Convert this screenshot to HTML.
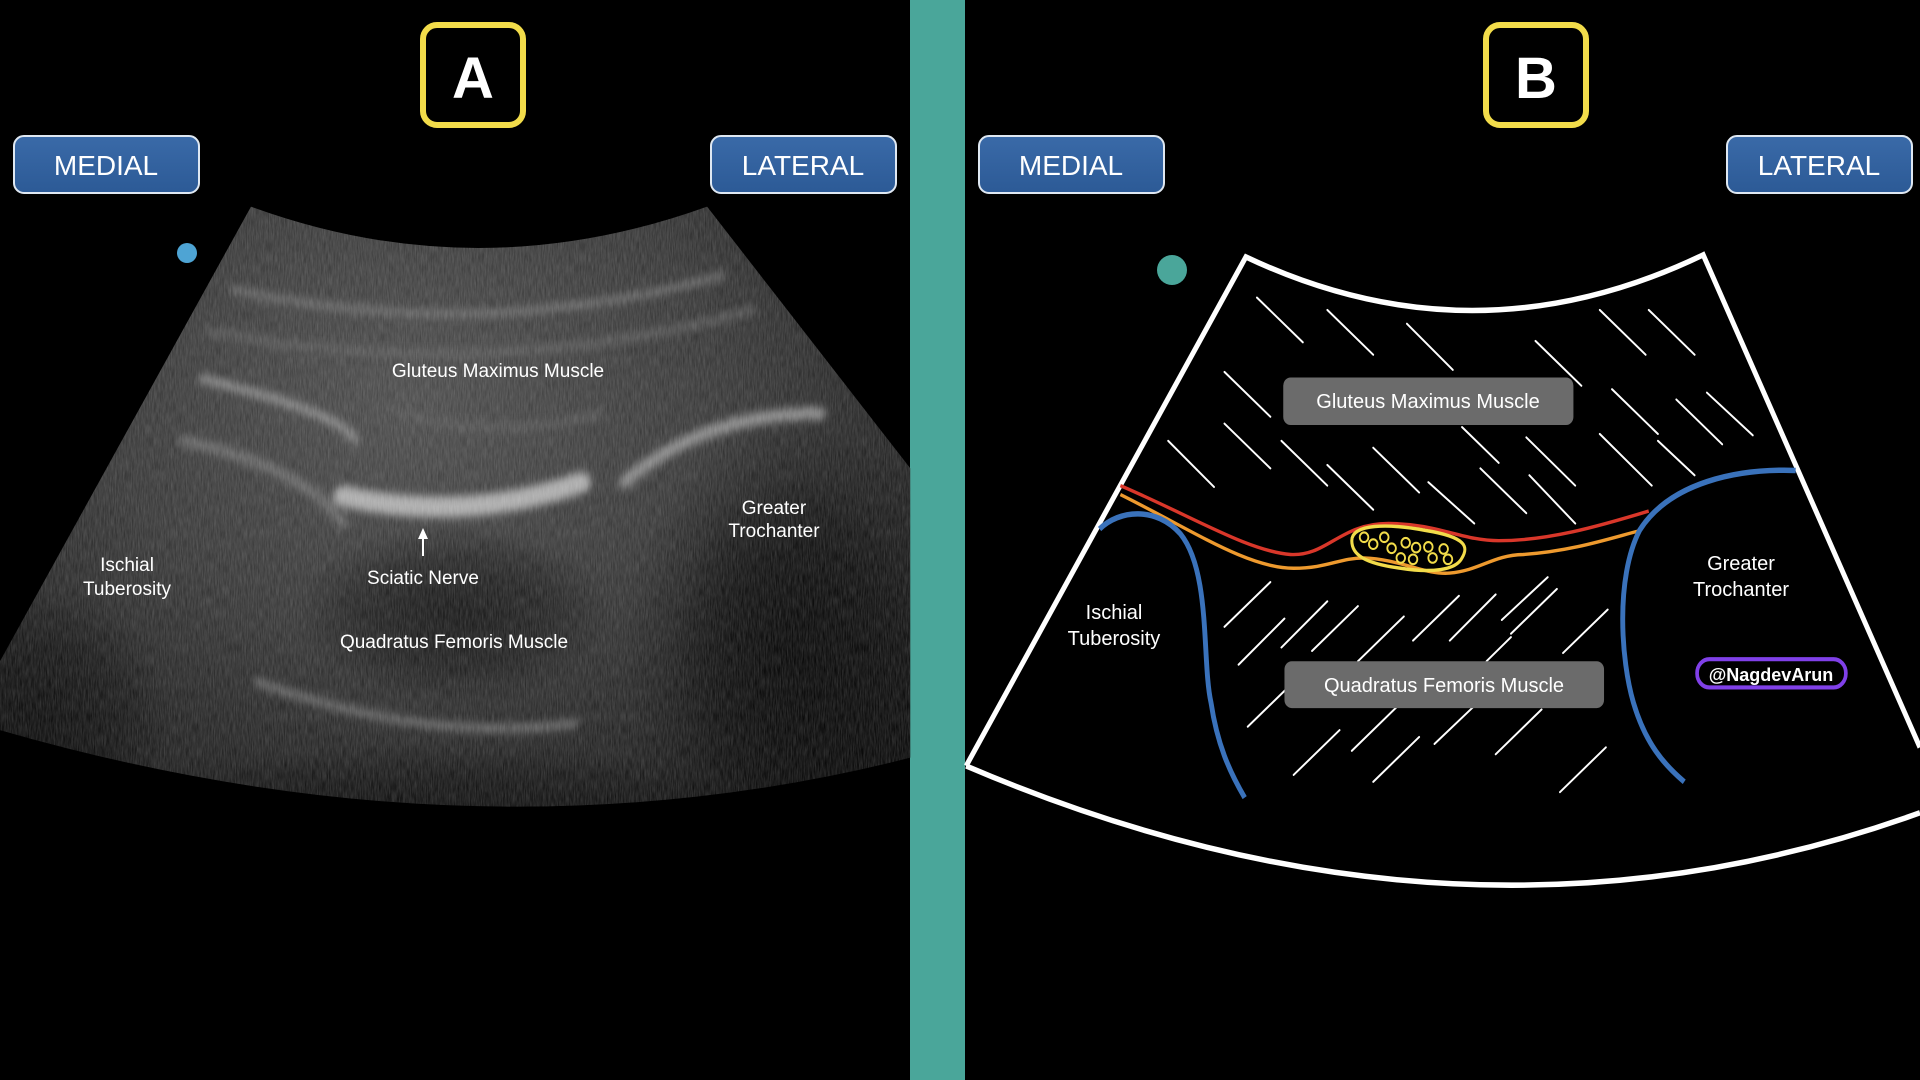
<!DOCTYPE html>
<html><head><meta charset="utf-8"><style>
html,body{margin:0;padding:0;background:#000;width:1920px;height:1080px;overflow:hidden}
svg{display:block}
</style></head><body>
<svg width="1920" height="1080" viewBox="0 0 1920 1080" xmlns="http://www.w3.org/2000/svg" font-family="Liberation Sans, sans-serif">
<defs>
<radialGradient id="us" cx="0.45" cy="0.3" r="0.75">
<stop offset="0" stop-color="#4a4a4a"/>
<stop offset="0.45" stop-color="#353535"/>
<stop offset="0.8" stop-color="#1c1c1c"/>
<stop offset="1" stop-color="#080808"/>
</radialGradient>
<radialGradient id="dk">
<stop offset="0" stop-color="#000" stop-opacity="0.6"/>
<stop offset="0.6" stop-color="#000" stop-opacity="0.35"/>
<stop offset="1" stop-color="#000" stop-opacity="0"/>
</radialGradient>
<linearGradient id="btn" x1="0" y1="0" x2="0" y2="1">
<stop offset="0" stop-color="#3a6aa8"/><stop offset="1" stop-color="#2c5a96"/>
</linearGradient>
<filter id="bl" x="-20%" y="-20%" width="140%" height="140%"><feGaussianBlur stdDeviation="6"/></filter>
<filter id="noise"><feTurbulence type="fractalNoise" baseFrequency="0.5 0.06" numOctaves="3" seed="3"/><feColorMatrix values="0 0 0 0 1  0 0 0 0 1  0 0 0 0 1  0 0 0 0.45 -0.05"/></filter>
<clipPath id="fan"><path d="M410,300 Q780,420 1155,300 L1487,680 L1487,1100 Q780,1260 0,1060 L0,960 Z"/></clipPath>
</defs>
<rect width="1920" height="1080" fill="#000"/>
<rect x="910" y="0" width="55" height="1080" fill="#4aa69a"/>

<!-- LEFT PANEL -->
<g transform="scale(0.6122,0.6888)">
<g clip-path="url(#fan)">
<rect x="0" y="280" width="1490" height="1000" fill="url(#us)"/>
<ellipse cx="740" cy="890" rx="260" ry="130" fill="url(#dk)"/>
<ellipse cx="1300" cy="950" rx="280" ry="350" fill="url(#dk)"/>
<ellipse cx="1300" cy="950" rx="200" ry="260" fill="url(#dk)"/>
<ellipse cx="60" cy="1050" rx="220" ry="200" fill="url(#dk)"/>
<ellipse cx="700" cy="1200" rx="600" ry="120" fill="url(#dk)"/>
<g filter="url(#bl)" fill="none" stroke-linecap="round">
<path d="M380,420 Q780,500 1180,400" stroke="#6a6a6a" stroke-width="10"/>
<path d="M340,480 Q780,560 1230,450" stroke="#5a5a5a" stroke-width="10"/>
<path d="M330,550 Q560,600 580,640" stroke="#888" stroke-width="12"/>
<path d="M300,640 Q500,680 560,760" stroke="#666" stroke-width="16"/>
<path d="M560,720 Q760,760 950,700" stroke="#aaa" stroke-width="30"/>
<path d="M1020,700 Q1150,600 1340,600" stroke="#888" stroke-width="18"/>
<path d="M420,990 Q700,1080 940,1050" stroke="#666" stroke-width="12"/>
<path d="M650,600 Q820,640 980,600" stroke="#555" stroke-width="10"/>
</g>
<rect x="0" y="280" width="1490" height="1000" filter="url(#noise)" opacity="0.5"/>
</g>
</g>
<circle cx="187" cy="253" r="10" fill="#4ea4d4"/>
<g fill="#fff" font-size="19" text-anchor="middle">
<text x="498" y="377">Gluteus Maximus Muscle</text>
<text x="774" y="514">Greater</text>
<text x="774" y="537">Trochanter</text>
<text x="127" y="571">Ischial</text>
<text x="127" y="595">Tuberosity</text>
<text x="423" y="584">Sciatic Nerve</text>
<text x="454" y="648">Quadratus Femoris Muscle</text>
</g>
<line x1="423" y1="556" x2="423" y2="536" stroke="#fff" stroke-width="2"/>
<path d="M418,539 L423,528 L428,539 Z" fill="#fff"/>

<rect x="423" y="25" width="100" height="100" rx="14" fill="#000" stroke="#f2dc4a" stroke-width="6"/>
<text x="473" y="98" fill="#fff" font-size="58" font-weight="bold" text-anchor="middle">A</text>
<g font-size="28" fill="#fff" text-anchor="middle">
<rect x="14" y="136" width="185" height="57" rx="10" fill="url(#btn)" stroke="#dfe8f2" stroke-width="2"/>
<text x="106" y="175">MEDIAL</text>
<rect x="711" y="136" width="185" height="57" rx="10" fill="url(#btn)" stroke="#dfe8f2" stroke-width="2"/>
<text x="803" y="175">LATERAL</text>
<rect x="979" y="136" width="185" height="57" rx="10" fill="url(#btn)" stroke="#dfe8f2" stroke-width="2"/>
<text x="1071" y="175">MEDIAL</text>
<rect x="1727" y="136" width="185" height="57" rx="10" fill="url(#btn)" stroke="#dfe8f2" stroke-width="2"/>
<text x="1819" y="175">LATERAL</text>
</g>
<rect x="1486" y="25" width="100" height="100" rx="14" fill="#000" stroke="#f2dc4a" stroke-width="6"/>
<text x="1536" y="98" fill="#fff" font-size="58" font-weight="bold" text-anchor="middle">B</text>

<!-- RIGHT PANEL -->
<circle cx="1172" cy="270" r="15" fill="#4aa69a"/>
<g transform="translate(960,0) scale(0.6122,0.6888)">
<g stroke="#fff" stroke-width="3" stroke-linecap="round">
<line x1="485" y1="432" x2="560" y2="497"/><line x1="600" y1="450" x2="675" y2="515"/>
<line x1="730" y1="470" x2="805" y2="537"/><line x1="940" y1="495" x2="1015" y2="560"/>
<line x1="1045" y1="450" x2="1120" y2="515"/><line x1="1125" y1="450" x2="1200" y2="515"/>
<line x1="432" y1="540" x2="507" y2="605"/><line x1="1065" y1="565" x2="1140" y2="630"/>
<line x1="1170" y1="580" x2="1245" y2="645"/><line x1="1220" y1="570" x2="1295" y2="632"/>
<line x1="340" y1="640" x2="415" y2="707"/><line x1="432" y1="615" x2="507" y2="680"/>
<line x1="525" y1="640" x2="600" y2="705"/><line x1="600" y1="675" x2="675" y2="740"/>
<line x1="675" y1="650" x2="750" y2="715"/><line x1="765" y1="700" x2="840" y2="760"/>
<line x1="820" y1="620" x2="880" y2="672"/><line x1="925" y1="635" x2="1005" y2="705"/>
<line x1="930" y1="690" x2="1005" y2="760"/><line x1="1045" y1="630" x2="1130" y2="705"/>
<line x1="850" y1="680" x2="925" y2="745"/><line x1="1140" y1="640" x2="1200" y2="690"/>
<line x1="432" y1="910" x2="507" y2="845"/><line x1="455" y1="965" x2="530" y2="898"/>
<line x1="525" y1="940" x2="600" y2="873"/><line x1="575" y1="945" x2="650" y2="880"/>
<line x1="650" y1="960" x2="725" y2="895"/><line x1="740" y1="930" x2="815" y2="865"/>
<line x1="800" y1="930" x2="875" y2="863"/><line x1="885" y1="900" x2="960" y2="838"/>
<line x1="985" y1="948" x2="1058" y2="885"/><line x1="470" y1="1055" x2="545" y2="990"/>
<line x1="545" y1="1125" x2="620" y2="1060"/><line x1="640" y1="1090" x2="715" y2="1025"/>
<line x1="675" y1="1135" x2="750" y2="1070"/><line x1="775" y1="1080" x2="840" y2="1025"/>
<line x1="875" y1="1095" x2="950" y2="1030"/><line x1="980" y1="1150" x2="1055" y2="1085"/>
<line x1="900" y1="920" x2="975" y2="855"/><line x1="860" y1="960" x2="900" y2="925"/>
</g>
<path d="M10,1112 L467,373 Q840,530 1214,370 L1568,1085 M10,1112 Q820,1420 1568,1180" fill="none" stroke="#fff" stroke-width="8"/>
<path d="M262,705 C380,750 470,800 540,805 C600,808 620,760 700,760 C780,760 820,785 880,785 C960,785 1040,765 1125,742" fill="none" stroke="#d9372a" stroke-width="5"/>
<path d="M262,718 C380,770 470,825 545,825 C600,825 620,810 660,810 C720,812 760,835 800,832 C850,828 870,806 920,805 C1000,800 1060,782 1112,770" fill="none" stroke="#ee9a2e" stroke-width="5"/>
<path d="M640,785 C640,760 700,760 760,770 C830,780 830,795 820,810 C810,828 770,832 720,825 C660,818 640,805 640,785 Z" fill="none" stroke="#f2dc4a" stroke-width="5"/>
<g fill="none" stroke="#f2dc4a" stroke-width="3">
<circle cx="675" cy="790" r="7"/><circle cx="693" cy="780" r="7"/><circle cx="705" cy="796" r="7"/>
<circle cx="720" cy="810" r="7"/><circle cx="728" cy="788" r="7"/><circle cx="745" cy="795" r="7"/>
<circle cx="740" cy="812" r="7"/><circle cx="765" cy="794" r="7"/><circle cx="772" cy="810" r="7"/>
<circle cx="790" cy="797" r="7"/><circle cx="797" cy="812" r="7"/><circle cx="660" cy="780" r="7"/>
</g>
<path d="M228,768 C260,740 320,735 360,775 C410,830 395,960 410,1020 C420,1080 440,1120 465,1158" fill="none" stroke="#3a72bb" stroke-width="8"/>
<path d="M1365,683 C1270,680 1160,700 1110,770 C1070,840 1080,960 1100,1020 C1120,1080 1150,1110 1183,1135" fill="none" stroke="#3a72bb" stroke-width="8"/>
<rect x="528" y="548" width="474" height="69" rx="12" fill="#6b6b6b"/>
<rect x="530" y="960" width="522" height="68" rx="12" fill="#6b6b6b"/>
<rect x="1204" y="957" width="243" height="41" rx="20" fill="#000" stroke="#8040e8" stroke-width="6"/>
</g>
<g fill="#fff" font-size="20" text-anchor="middle">
<text x="1428" y="408">Gluteus Maximus Muscle</text>
<text x="1444" y="692">Quadratus Femoris Muscle</text>
<text x="1114" y="619">Ischial</text><text x="1114" y="645">Tuberosity</text>
<text x="1741" y="570">Greater</text><text x="1741" y="596">Trochanter</text>
<text x="1771" y="681" font-size="18" font-weight="bold">@NagdevArun</text>
</g>
</svg>
</body></html>
